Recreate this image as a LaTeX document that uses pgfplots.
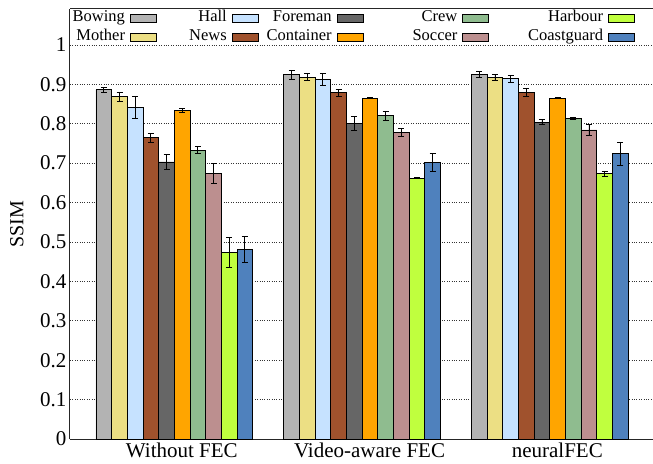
\documentclass[border=0pt]{standalone}
\usepackage{fontspec}
\setmainfont{Liberation Serif}
\usepackage{pgfplots}
\pgfplotsset{compat=1.18}
\definecolor{cBowing}{RGB}{179,179,179}
\definecolor{cMother}{RGB}{236,223,132}
\definecolor{cHall}{RGB}{198,226,255}
\definecolor{cNews}{RGB}{160,82,45}
\definecolor{cForeman}{RGB}{102,102,102}
\definecolor{cContainer}{RGB}{255,165,0}
\definecolor{cCrew}{RGB}{143,188,143}
\definecolor{cSoccer}{RGB}{188,143,143}
\definecolor{cHarbour}{RGB}{192,255,62}
\definecolor{cCoast}{RGB}{79,129,189}
\begin{document}
\begin{tikzpicture}
\begin{axis}[
  scale only axis, width=583pt, height=430pt,
  xmin=-0.556, xmax=2.55, ymin=0, ymax=1.091,
  ybar=0pt, bar width=0.0835,
  xtick={0,1,2}, xticklabels={Without FEC, Video-aware FEC, neuralFEC},
  ytick={0,0.1,0.2,0.3,0.4,0.5,0.6,0.7,0.8,0.9,1},
  major tick length=0pt,
  ymajorgrids, grid style={dotted, black!80, line width=0.6pt},
  axis x line*=box, axis y line*=left,
  axis line style={black!85, line width=1pt},
  ylabel={SSIM},
  every axis y label/.style={at={(axis description cs:-0.091,0.5)}, rotate=90, anchor=center, font=\fontsize{20}{24}\selectfont},
  tick label style={font=\fontsize{21}{24}\selectfont},
  xticklabel style={xshift=7.5pt},
  /pgf/number format/assume math mode=true,
  legend columns=2, transpose legend, legend plot pos=right,
  legend image code/.code={\path (0pt,0pt); \draw[#1,line width=0.8pt] (5pt,-4pt) rectangle (31pt,4pt); \path (33pt,0pt);},
  legend style={at={(0,1)}, anchor=north west, draw=none, fill=none, inner sep=0pt, outer sep=0pt,
    column sep=0pt, row sep=4pt, xshift=3pt, yshift=-2pt,
    font=\fontsize{16.5}{18}\selectfont,
    nodes={inner sep=0pt, text height=11pt, text depth=4pt}},
  error bars/y dir=both, error bars/y explicit,
  error bars/error mark=-,
  error bars/error bar style={black, line width=0.8pt},
  error bars/error mark options={black, rotate=90, mark size=3pt, line width=0.8pt},
  every axis plot/.append style={draw=black, line width=0.8pt},
]
\addplot[fill=cBowing] coordinates {(0,0.886) +- (0,0.0055) (1,0.924) +- (0,0.011) (2,0.925) +- (0,0.0085)};
\addlegendentry{\makebox[52pt][r]{Bowing}}
\addplot[fill=cMother] coordinates {(0,0.869) +- (0,0.0115) (1,0.918) +- (0,0.0093) (2,0.917) +- (0,0.0072)};
\addlegendentry{\makebox[52pt][r]{Mother}}
\addplot[fill=cHall] coordinates {(0,0.841) +- (0,0.0275) (1,0.912) +- (0,0.0144) (2,0.914) +- (0,0.008)};
\addlegendentry{\makebox[68pt][r]{Hall}}
\addplot[fill=cNews] coordinates {(0,0.764) +- (0,0.0115) (1,0.879) +- (0,0.0089) (2,0.879) +- (0,0.011)};
\addlegendentry{\makebox[68pt][r]{News}}
\addplot[fill=cForeman] coordinates {(0,0.703) +- (0,0.0186) (1,0.801) +- (0,0.0178) (2,0.804) +- (0,0.0068)};
\addlegendentry{\makebox[71pt][r]{Foreman}}
\addplot[fill=cContainer] coordinates {(0,0.834) +- (0,0.005) (1,0.865) +- (0,0.0015) (2,0.865) +- (0,0.0015)};
\addlegendentry{\makebox[71pt][r]{Container}}
\addplot[fill=cCrew] coordinates {(0,0.733) +- (0,0.0085) (1,0.820) +- (0,0.0114) (2,0.814) +- (0,0.003)};
\addlegendentry{\makebox[92pt][r]{Crew}}
\addplot[fill=cSoccer] coordinates {(0,0.674) +- (0,0.025) (1,0.778) +- (0,0.0093) (2,0.784) +- (0,0.0144)};
\addlegendentry{\makebox[92pt][r]{Soccer}}
\addplot[fill=cHarbour] coordinates {(0,0.473) +- (0,0.0377) (1,0.662) +- (0,0.0015) (2,0.673) +- (0,0.0072)};
\addlegendentry{\makebox[112pt][r]{Harbour}}
\addplot[fill=cCoast] coordinates {(0,0.481) +- (0,0.0326) (1,0.701) +- (0,0.0228) (2,0.724) +- (0,0.0296)};
\addlegendentry{\makebox[112pt][r]{Coastguard}}
\end{axis}
\pgfresetboundingbox
\path[use as bounding box] ([xshift=-70pt,yshift=-24pt]current axis.south west) rectangle ([yshift=9pt]current axis.north east);
\end{tikzpicture}
\end{document}
